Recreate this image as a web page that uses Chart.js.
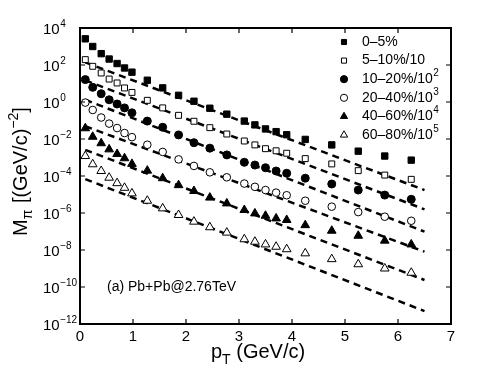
<!DOCTYPE html>
<html>
<head>
<meta charset="utf-8">
<script src="https://cdn.jsdelivr.net/npm/chart.js@4.4.0/dist/chart.umd.min.js"></script>
<style>
  html, body { margin: 0; padding: 0; background: #fff; }
  #wrap { width: 498px; height: 373px; }
</style>
</head>
<body>
<div id="wrap"><canvas id="myChart" width="498" height="373"></canvas></div>
<script>
// pT bins (GeV/c)
const pT = [0.1, 0.24, 0.4, 0.55, 0.7, 0.84, 0.98, 1.27, 1.56, 1.86, 2.15, 2.45,
            2.77, 3.1, 3.3, 3.5, 3.7, 3.9, 4.25, 4.75, 5.25, 5.75, 6.25];

// spectra as plotted (already scaled by 10^-k)
const cent0_5 = [2.6e3, 1.0e3, 4.1e2, 2.1e2, 1.2e2, 69, 41, 15, 5.8, 2.3, 1.1, 0.46,
                 0.22, 0.093, 0.058, 0.035, 0.025, 0.017, 9.5e-3, 4.8e-3, 2.2e-3, 1.2e-3, 7.2e-4];
const cent5_10 = [195, 85, 37, 17.4, 10.7, 5.75, 3.3, 1.23, 0.48, 0.19, 0.091, 0.041,
                  0.0186, 7.8e-3, 4.8e-3, 3.0e-3, 2.3e-3, 1.7e-3, 8.7e-4, 4.5e-4, 1.95e-4, 1.12e-4, 6.6e-5];
const cent10_20 = [16.2, 6.2, 2.8, 1.32, 0.78, 0.48, 0.26, 0.093, 0.043, 0.0166, 6.3e-3, 3.2e-3,
                   1.38e-3, 5.5e-4, 3.9e-4, 2.8e-4, 1.86e-4, 1.41e-4, 7.6e-5, 3.7e-5, 1.74e-5, 9.3e-6, 5.5e-6];
const cent20_40 = [0.93, 0.37, 0.145, 0.068, 0.039, 0.021, 0.0126, 4.9e-3, 2.0e-3, 7.9e-4, 3.5e-4, 1.58e-4,
                   8.5e-5, 3.9e-5, 2.6e-5, 1.74e-5, 1.26e-5, 9.1e-6, 4.6e-6, 2.2e-6, 1.12e-6, 6.3e-7, 3.8e-7];
const cent40_60 = [0.038, 0.0132, 5.9e-3, 2.75e-3, 1.55e-3, 9.1e-4, 4.5e-4, 1.95e-4, 7.6e-5, 3.2e-5, 1.55e-5, 6.8e-6,
                   3.3e-6, 1.45e-6, 9.5e-7, 7.1e-7, 5.1e-7, 4.2e-7, 2.2e-7, 1.1e-7, 5.9e-8, 3.2e-8, 2.0e-8];
const cent60_80 = [1.2e-3, 4.3e-4, 1.86e-4, 8.1e-5, 4.1e-5, 2.3e-5, 1.15e-5, 4.6e-6, 1.78e-6, 7.8e-7, 3.4e-7, 1.7e-7,
                   8.7e-8, 3.8e-8, 2.8e-8, 2.0e-8, 1.5e-8, 1.1e-8, 6.6e-9, 3.2e-9, 1.7e-9, 1.0e-9, 5.9e-10];

// dashed fit lines (exponential), start / end values
const fitPt = [0.1, 6.5];
const fit0_5 = [138, 1.74e-5];
const fit5_10 = [14.8, 1.58e-6];
const fit10_20 = [1.32, 9.8e-8];
const fit20_40 = [0.049, 8.1e-9];
const fit40_60 = [2.6e-3, 2.4e-10];
const fit60_80 = [6.8e-5, 5.0e-12];

// axes
const xTicks = [0, 1, 2, 3, 4, 5, 6, 7];
const yTickExps = [4, 2, 0, -2, -4, -6, -8, -10, -12];

// legend text: [label, superscript]
const legendLabels = [['0\u20135%', ''], ['5\u201310%/10', ''], ['10\u201320%/10', '2'],
                      ['20\u201340%/10', '3'], ['40\u201360%/10', '4'], ['60\u201380%/10', '5']];

const FONT = '"Liberation Sans", Arial, Helvetica, sans-serif';

const markers = [
    { style: 'rect', radius: 4.5, fill: '#000' },
    { style: 'rect', radius: 4.2, fill: '#fff' },
    { style: 'circle', radius: 4, fill: '#000' },
    { style: 'circle', radius: 3.8, fill: '#fff' },
    { style: 'triangle', radius: 5, fill: '#000' },
    { style: 'triangle', radius: 5, fill: '#fff' }
];

const series = [cent0_5, cent5_10, cent10_20, cent20_40, cent40_60, cent60_80];
const fits = [fit0_5, fit5_10, fit10_20, fit20_40, fit40_60, fit60_80];

const toPoints = (xs, ys) => xs.map((x, i) => ({ x: x, y: ys[i] }));

const drawMarker = function(ctx, m, x, y, r) {
    ctx.beginPath();
    if (m.style === 'rect') {
        const s = r * Math.SQRT1_2;
        ctx.rect(x - s, y - s, 2 * s, 2 * s);
    } else if (m.style === 'circle') {
        ctx.arc(x, y, r, 0, Math.PI * 2);
    } else {
        const h = r * Math.sin(Math.PI / 3);
        ctx.moveTo(x, y - r);
        ctx.lineTo(x + h, y + r / 2);
        ctx.lineTo(x - h, y + r / 2);
        ctx.closePath();
    }
    ctx.fillStyle = m.fill;
    ctx.fill();
    ctx.lineWidth = 1;
    ctx.strokeStyle = '#000';
    ctx.stroke();
};

// draws base text followed by a raised smaller exponent
const drawSup = function(ctx, base, exp, x, y, size, expSize, raise) {
    ctx.font = size + 'px ' + FONT;
    ctx.textAlign = 'left';
    ctx.textBaseline = 'middle';
    ctx.fillText(base, x, y);
    const w = ctx.measureText(base).width;
    if (exp) {
        ctx.font = expSize + 'px ' + FONT;
        ctx.fillText(exp, x + w + 0.5, y - raise);
    }
};

const framePlugin = {
    id: 'frame',
    afterDraw(chart) {
        const ctx = chart.ctx;
        const a = chart.chartArea;
        const xs = chart.scales.x;
        const ys = chart.scales.y;
        ctx.save();
        ctx.fillStyle = '#000';
        ctx.strokeStyle = '#000';

        // box
        ctx.lineWidth = 2;
        ctx.strokeRect(a.left, a.top, a.right - a.left, a.bottom - a.top);

        // inward ticks
        ctx.lineWidth = 1.2;
        ctx.beginPath();
        xTicks.forEach(v => {
            const px = xs.getPixelForValue(v);
            ctx.moveTo(px, a.bottom); ctx.lineTo(px, a.bottom - 5);
            ctx.moveTo(px, a.top); ctx.lineTo(px, a.top + 5);
        });
        yTickExps.forEach(e => {
            const py = ys.getPixelForValue(Math.pow(10, e));
            ctx.moveTo(a.left, py); ctx.lineTo(a.left + 5, py);
            ctx.moveTo(a.right, py); ctx.lineTo(a.right - 5, py);
        });
        ctx.stroke();

        // x tick labels
        ctx.font = '15px ' + FONT;
        ctx.textAlign = 'center';
        ctx.textBaseline = 'middle';
        xTicks.forEach(v => {
            ctx.fillText(String(v), xs.getPixelForValue(v), a.bottom + 13);
        });

        // y tick labels
        yTickExps.forEach(e => {
            const py = ys.getPixelForValue(Math.pow(10, e));
            drawSup(ctx, '10', e < 0 ? '\u2212' + (-e) : String(e), 43, py + 2, 15, 10, 6);
        });

        // x title
        ctx.font = '20px ' + FONT;
        ctx.textAlign = 'left';
        ctx.textBaseline = 'alphabetic';
        let x = 211;
        ctx.fillText('p', x, 358);
        x += ctx.measureText('p').width;
        ctx.font = '14px ' + FONT;
        ctx.fillText('T', x, 364);
        x += ctx.measureText('T').width;
        ctx.font = '20px ' + FONT;
        ctx.fillText(' (GeV/c)', x, 358);

        // y title (rotated)
        ctx.save();
        ctx.translate(27, 236);
        ctx.rotate(-Math.PI / 2);
        let t = 0;
        ctx.font = '20px ' + FONT;
        ctx.fillText('M', t, 0);
        t += ctx.measureText('M').width;
        ctx.font = '14px ' + FONT;
        ctx.fillText('\u03c0', t, 5);
        t += ctx.measureText('\u03c0').width + 1;
        ctx.font = '20px ' + FONT;
        ctx.fillText(' [(GeV/c)', t, 0);
        t += ctx.measureText(' [(GeV/c)').width;
        ctx.font = '14px ' + FONT;
        ctx.fillText('\u22122', t, -9);
        t += ctx.measureText('\u22122').width;
        ctx.font = '20px ' + FONT;
        ctx.fillText(']', t, 0);
        ctx.restore();

        // legend
        legendLabels.forEach((lab, i) => {
            const ly = 42 + i * 18.6;
            drawMarker(ctx, markers[i], 344, ly, markers[i].style === 'triangle' ? 4.2 : 3.6);
            ctx.fillStyle = '#000';
            drawSup(ctx, lab[0], lab[1], 362, ly, 14, 10, 6);
        });

        // annotation
        ctx.fillStyle = '#000';
        ctx.font = '14px ' + FONT;
        ctx.textAlign = 'left';
        ctx.textBaseline = 'middle';
        ctx.fillText('(a) Pb+Pb@2.76TeV', 107, 287);

        ctx.restore();
    }
};

const datasets = [];
series.forEach((s, i) => {
    const m = markers[i];
    datasets.push({
        data: toPoints(pT, s),
        showLine: false,
        pointStyle: m.style,
        pointRadius: m.radius,
        pointBackgroundColor: m.fill,
        pointBorderColor: '#000',
        pointBorderWidth: 1
    });
});
fits.forEach(f => {
    datasets.push({
        data: toPoints(fitPt, f),
        showLine: true,
        borderColor: '#000',
        borderWidth: 2.5,
        borderDash: [7, 5],
        pointRadius: 0,
        fill: false
    });
});

const ctx = document.getElementById('myChart');
new Chart(ctx, {
    type: 'scatter',
    data: { datasets: datasets },
    options: {
        responsive: false,
        animation: false,
        devicePixelRatio: 1,
        layout: { padding: { left: 0, right: 47, top: 28, bottom: 0 } },
        plugins: { legend: { display: false }, tooltip: { enabled: false } },
        scales: {
            x: {
                type: 'linear', min: 0, max: 7,
                ticks: { display: false }, grid: { display: false }, border: { display: false },
                afterFit: s => { s.height = 49; }
            },
            y: {
                type: 'logarithmic', min: 1e-12, max: 1e4,
                ticks: { display: false }, grid: { display: false }, border: { display: false },
                afterFit: s => { s.width = 80; }
            }
        }
    },
    plugins: [framePlugin]
});
</script>
</body>
</html>
